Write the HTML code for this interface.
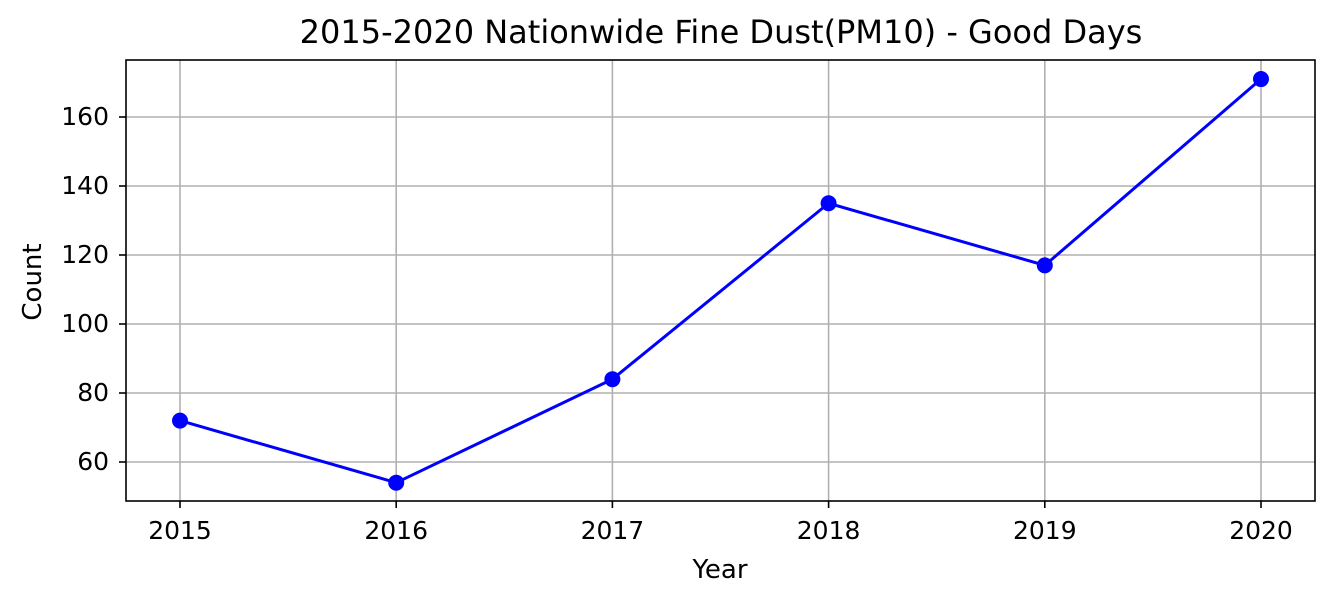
<!DOCTYPE html>
<html><head><meta charset="utf-8"><style>
body{margin:0;background:#fff;}
svg{display:block;font-family:"DejaVu Sans","Liberation Sans",sans-serif;}
</style></head><body>
<svg id="chart" width="1335" height="603">
<text x="721" y="43" font-size="32" text-anchor="middle">2015-2020 Nationwide Fine Dust(PM10) - Good Days</text>
<text x="720" y="578" font-size="26" text-anchor="middle">Year</text>
<text transform="translate(41,282) rotate(-90)" font-size="26" text-anchor="middle">Count</text>
<g id="grid"></g><g id="ticks"></g><g id="series"></g>
<rect x="126" y="60" width="1189" height="441" fill="none" stroke="#000" stroke-width="1.6"/>
</svg>
<script>
const years = [2015, 2016, 2017, 2018, 2019, 2020];
const counts = [72, 54, 84, 135, 117, 171];
const yTicks = [60, 80, 100, 120, 140, 160];
const NS = "http://www.w3.org/2000/svg";
function xS(i){return 180 + (i)*(1261-180)/5;}
function yS(v){return 462 - (v-60)*3.45;}
function mk(tag, attrs, parent){const e=document.createElementNS(NS,tag);for(const k in attrs)e.setAttribute(k,attrs[k]);document.getElementById(parent).appendChild(e);return e;}
years.forEach((yr,i)=>{
  const x=xS(i);
  const g=mk('line',{x1:x,x2:x,y1:60,y2:501,stroke:'#b0b0b0','stroke-width':1.6},'grid');
  
  
  const t=mk('line',{x1:x,x2:x,y1:501,y2:508,stroke:'#000','stroke-width':1.6},'ticks');
  
  
  const l=mk('text',{x:x,y:539,'font-size':25,'text-anchor':'middle'},'ticks');
  l.textContent=yr;
  
  
});
yTicks.forEach(v=>{
  const y=yS(v);
  const g=mk('line',{x1:126,x2:1315,y1:y,y2:y,stroke:'#b0b0b0','stroke-width':1.6},'grid');
  
  
  const t=mk('line',{x1:119,x2:126,y1:y,y2:y,stroke:'#000','stroke-width':1.6},'ticks');
  
  
  const l=mk('text',{x:109,y:y+8,'font-size':25,'text-anchor':'end'},'ticks');
  l.textContent=v;
  
  
});
const pts=counts.map((v,i)=>xS(i)+','+yS(v)).join(' ');
const pl=mk('polyline',{points:pts,fill:'none',stroke:'#0000ff','stroke-width':3},'series');


counts.forEach((v,i)=>{
  const c=mk('circle',{cx:xS(i),cy:yS(v),r:8,fill:'#0000ff'},'series');
  
  
});
</script>
</body></html>
